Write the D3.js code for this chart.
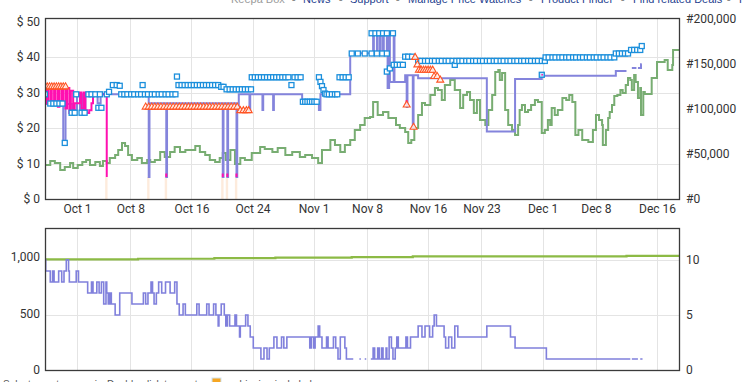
<!DOCTYPE html>
<html><head><meta charset="utf-8">
<script src="https://cdn.jsdelivr.net/npm/d3@7"></script>
<style>
html,body{margin:0;padding:0;background:#fff;}
svg{display:block;font-family:Roboto,"Noto Sans",sans-serif;}
</style></head><body>
<svg id="c" width="742" height="382"></svg>
<script>
// ---------- data ----------
const baseDate = Date.UTC(2023, 9, 1);          // day 0 = Oct 1
const viewDays = [-4.19, 79.01];                 // visible range (days from Oct 1)
const xTickDates = ["2023-10-01","2023-10-08","2023-10-16","2023-10-24","2023-11-01","2023-11-08","2023-11-16","2023-11-23","2023-12-01","2023-12-08","2023-12-16"];
const xTickLabels = ["Oct 1","Oct 8","Oct 16","Oct 24","Nov 1","Nov 8","Nov 16","Nov 23","Dec 1","Dec 8","Dec 16"];
const priceTicks = [0,10,20,30,40,50];
const rankTicks = [0,50000,100000,150000,200000];
const countTicksLeft = [0,500,1000];
const countTicksRight = [0,5,10];

// Sales rank [day, rank]
const salesRank = [[-4.2,37800],[-3.5,42200],[-2.9,40000],[-2.2,32200],[-1.6,35600],[-0.9,40000],[-0.5,34400],[0.1,37800],[0.7,41100],[1.2,43300],[1.7,37800],[2.4,41100],[3.0,36700],[3.4,42200],[3.9,40000],[4.3,45500],[5.0,48900],[5.4,54400],[5.9,62200],[6.3,58900],[6.7,48900],[7.2,43300],[7.9,45500],[8.5,40000],[9.2,43300],[9.6,41100],[10.2,43300],[10.9,52200],[11.5,46700],[12.2,52200],[12.8,57800],[13.5,52200],[14.2,54400],[14.8,54400],[15.5,58900],[16.1,52200],[16.8,48900],[17.4,43300],[18.1,41100],[18.7,45500],[19.1,51100],[19.5,43300],[20.1,54400],[20.7,38900],[21.4,45500],[22.0,43300],[22.9,51100],[24.0,57800],[24.6,55600],[25.6,52200],[26.3,56700],[27.3,48900],[28.2,52200],[29.2,46700],[29.9,48900],[30.8,45500],[31.6,40000],[32.1,54400],[33.2,65500],[33.8,60000],[34.5,52200],[35.1,60000],[35.8,65500],[36.4,76700],[37.1,82200],[37.7,90000],[38.4,91100],[38.8,107800],[39.4,93300],[40.1,96700],[40.8,90000],[41.3,90000],[41.8,82200],[42.3,78900],[43.0,74400],[43.4,62200],[43.8,65500],[44.2,78900],[44.7,93300],[45.2,106700],[45.6,104400],[46.3,115500],[46.9,123300],[47.3,121100],[47.8,110000],[48.2,126700],[48.9,132200],[49.5,121100],[50.2,101100],[50.6,115500],[51.1,118900],[51.5,110000],[52.0,95500],[52.4,110000],[52.8,87800],[53.5,82200],[53.9,98900],[54.4,115500],[54.8,141100],[55.2,143300],[55.4,132200],[55.7,140000],[56.1,98900],[56.5,82200],[57.0,76700],[57.4,71100],[57.8,82200],[58.0,98900],[58.3,104400],[58.7,96700],[59.1,98900],[59.5,104400],[60.0,110000],[60.4,107800],[60.9,73300],[61.3,76700],[61.7,87800],[62.0,82200],[62.2,101100],[62.6,93300],[63.0,98900],[63.6,112200],[64.1,110000],[64.5,115500],[64.9,107800],[65.3,71100],[65.7,76700],[66.2,65500],[67.0,63300],[67.4,63300],[67.6,76700],[68.0,93300],[68.4,87800],[68.8,82200],[68.9,60000],[69.3,76700],[69.6,90000],[69.8,96700],[70.1,104400],[70.4,114400],[70.8,115500],[71.2,121100],[71.5,117800],[71.9,126700],[72.2,134400],[72.5,132200],[72.7,121100],[73.0,137800],[73.2,130000],[73.5,112200],[73.8,123300],[73.9,93300],[74.2,118900],[74.4,116700],[75.3,134400],[76.0,152200],[77.0,154400],[77.4,143300],[78.0,148900],[78.1,165500],[79.0,165500]];

// New price (purple step line) [day, $]; null = gap
const newPrice = [[-4.2,26.8],[-1.8,15.8],[-1.5,26.8],[-0.6,25.1],[0.0,29.5],[0.4,24.5],[0.6,29.5],[0.8,24.5],[1.1,29.5],[2.7,27.0],[3.1,29.5],[9.4,6.2],[9.5,27.0],[11.7,6.2],[11.8,27.0],[19.1,6.2],[19.2,27.0],[19.7,6.2],[19.8,27.0],[20.9,6.2],[21.0,25.1],[21.2,29.5],[22.6,25.1],[22.7,29.5],[24.3,25.1],[24.4,29.5],[25.7,25.1],[25.8,29.5],[29.5,27.3],[31.7,25.1],[31.9,29.5],[35.8,41.1],[38.8,46.8],[38.9,41.1],[39.3,46.8],[39.4,41.1],[39.7,46.8],[39.8,41.1],[40.1,46.8],[40.2,41.1],[40.6,46.8],[40.7,31.3],[40.9,46.8],[41.0,33.0],[41.5,46.8],[41.6,33.0],[43.0,34.9],[43.2,25.9],[43.3,34.9],[44.0,20.0],[44.1,34.9],[44.7,34.0],[53.7,19.0],[57.4,33.8],[60.9,34.7],[70.6,36.1],[72.0,36.1],[72.0,null],[72.7,36.9],[73.3,36.9],[73.3,null],[73.5,36.9],[73.9,38.0],[74.0,38.0],[74.0,null]];

// Buy Box (magenta step line) [day, $]; null = gap
const buyBox = [[-4.2,31.3],[-4.0,27.0],[-3.8,31.3],[-3.5,26.5],[-3.3,31.3],[-3.0,27.0],[-2.8,31.3],[-2.5,26.0],[-2.3,31.3],[-2.0,27.0],[-1.8,31.3],[-1.5,25.5],[-1.3,31.3],[-1.0,24.2],[-0.8,30.5],[-0.5,24.2],[-0.3,27.0],[0.4,30.0],[0.6,25.5],[0.9,30.0],[1.1,25.0],[1.3,24.2],[1.6,25.0],[1.9,27.0],[2.1,29.5],[3.9,6.2],[4.0,null],[11.7,7.2],[11.7,6.2],[11.8,null],[19.1,7.2],[19.1,6.2],[19.2,null],[19.7,7.2],[19.7,6.2],[19.8,null],[20.9,7.2],[20.9,6.2],[21.0,null],[29.5,27.2],[31.7,27.2],[31.8,null],[43.2,27.9],[43.2,26.5],[43.3,null],[60.8,35.0],[61.0,35.0],[61.1,null]];

// Amazon (faint area) days where price hit $6.2
const amazonDays = [3.85,9.35,11.65,19.05,19.65,20.85];
const amazonValue = 6.2;

// New, 3rd party FBM (blue squares) [day, $]
const newFbm = [[-4.2,29.5],[-3.5,26.9],[-3.1,26.9],[-2.7,26.9],[-2.3,26.9],[-1.9,26.9],[-1.6,15.8],[-0.7,24.3],[-0.3,24.3],[-0.1,29.5],[0.6,24.3],[1.0,24.3],[1.5,29.5],[1.9,29.5],[2.4,29.5],[2.8,25.7],[3.2,25.7],[3.0,29.5],[3.9,29.5],[4.2,30.2],[4.7,32.1],[5.2,32.1],[5.6,31.9],
[5.8,29.5],[6.2,29.5],[6.6,29.5],[7.1,29.5],[7.5,29.5],[8.0,29.5],[8.4,29.5],[8.6,32.1],[8.9,29.5],[9.3,29.5],[9.8,29.5],[10.2,29.5],[10.7,29.5],[11.1,29.5],[11.6,29.5],[12.0,29.5],[12.5,29.5],[12.9,29.5],[13.1,34.5],
[13.3,32.1],[13.7,32.1],[14.1,32.1],[14.5,32.1],[14.9,32.1],[15.3,32.1],[15.7,32.1],[16.1,32.1],[16.5,32.1],[16.9,32.1],[17.3,32.1],[17.7,32.1],[18.1,32.1],[18.5,32.1],[18.9,31.6],[19.2,31.6],
[19.6,30.9],[20.0,30.9],[20.4,30.9],[20.8,30.9],[21.2,30.9],[21.6,30.9],[22.0,30.9],[22.4,30.9],[22.8,30.9],
[22.9,34.3],[23.3,34.3],[23.7,34.3],[24.1,34.3],[24.5,34.3],[24.9,34.3],[25.3,34.3],[25.7,34.3],[26.1,34.3],[26.5,34.3],[26.9,34.3],[27.3,34.3],[27.7,34.3],[28.1,32.1],[28.5,34.3],[28.9,34.3],[29.3,34.3],
[29.6,27.4],[29.9,27.4],[30.2,27.4],[30.5,27.4],[30.8,27.4],[31.1,27.4],[31.4,27.4],
[31.7,34.3],[31.9,33.0],[32.1,31.8],[32.3,30.7],[32.5,29.7],[32.7,29.5],[33.0,29.5],[33.4,29.5],[33.8,29.5],[34.1,29.5],
[34.4,34.3],[34.8,34.3],[35.2,34.3],[35.6,34.3],
[36.0,41.0],[36.8,41.0],[37.7,41.0],[38.6,41.0],[39.3,41.0],[40.0,41.0],[40.6,41.0],
[38.6,46.7],[39.1,46.7],[39.6,46.7],[40.1,46.7],[40.6,46.7],[41.4,46.7],
[40.6,35.9],[41.0,36.8],[41.5,37.8],[41.9,37.8],[42.3,37.8],[42.7,37.8],[43.0,40.1],[43.4,40.1],[43.9,40.1],
[44.7,38.9],[45.1,38.9],[45.6,38.9],[46.0,38.9],[46.5,38.9],[46.9,38.9],[47.4,38.9],[47.8,38.9],[48.3,38.9],[48.7,38.9],[49.2,38.9],[49.5,37.8],[49.7,38.9],[50.1,38.9],[50.5,38.9],[51.0,38.9],[51.4,38.9],[51.9,38.9],[52.3,38.9],[52.8,38.9],[53.2,38.9],[53.7,38.9],[54.1,38.9],[54.6,38.9],[55.0,38.9],[55.5,38.9],[55.9,38.9],[56.4,38.9],[56.8,38.9],[57.3,38.9],[57.7,38.9],[58.2,38.9],[58.6,38.9],[59.1,38.9],[59.5,38.9],[60.0,38.9],[60.4,38.9],[60.9,38.9],[61.3,38.9],
[61.4,39.9],[61.8,39.9],[62.3,39.9],[62.7,39.9],[63.2,39.9],[63.6,39.9],[64.1,39.9],[64.5,39.9],[65.0,39.9],[65.4,39.9],[65.9,39.9],[66.3,39.9],[66.8,39.9],[67.2,39.9],[67.7,39.9],[68.1,39.9],[68.6,39.9],[69.0,39.9],[69.5,39.9],[69.9,39.9],[70.4,39.9],
[70.6,41.0],[71.0,41.0],[71.4,41.0],[71.8,41.0],[72.2,41.0],[72.6,42.0],[73.0,42.0],[73.4,42.0],[73.8,42.0],[74.0,43.1]];
// Buy Box marker (square) [day, $]
const buyBoxMarker = [[60.9,35.0]];

// New, 3rd party FBA (orange triangles) [day, $]
const newFba = [[-4.2,31.6],[-3.9,31.6],[-3.6,31.6],[-3.3,31.6],[-3.0,31.6],[-2.7,31.6],[-2.4,31.6],[-2.1,31.6],[-1.8,31.6],[-1.5,31.6],
[9.0,25.9],[9.4,25.9],[9.8,25.9],[10.2,25.9],[10.6,25.9],[11.0,25.9],[11.4,25.9],[11.8,25.9],[12.2,25.9],[12.6,25.9],[13.0,25.9],[13.4,25.9],[13.8,25.9],[14.2,25.9],[14.6,25.9],[15.0,25.9],[15.4,25.9],[15.8,25.9],[16.2,25.9],[16.6,25.9],[17.0,25.9],[17.4,25.9],[17.8,25.9],[18.2,25.9],[18.6,25.9],[19.0,25.9],[19.4,25.9],[19.8,25.9],[20.2,25.9],[20.6,25.9],[21.0,25.9],
[21.4,24.9],[21.8,24.9],[22.2,24.9],[22.5,24.9],
[43.2,26.5],[44.1,20.2],[44.3,39.9],[44.6,37.8],[44.8,36.3],[45.1,36.3],[45.4,36.3],[45.7,36.3],[46.0,36.3],[46.3,36.3],[46.6,36.3],[46.8,34.5],[47.2,34.5],[47.6,33.5]];

// Lower chart: new offer count [day, count] (null = gap) and review count [day, count]
const offerCount = [[-4.2,10],[-4.1,9],[-3.5,8],[-3.2,9],[-3.0,8],[-2.4,9],[-2.0,8],[-1.7,9],[-1.4,10],[-1.1,9],[-1.0,8],[-0.1,9],[0.2,8],[1.4,7],[1.9,8],[2.1,7],[2.6,8],[2.9,7],[3.2,8],[3.5,6],[3.8,8],[3.9,7],[4.1,6],[4.3,7],[4.5,6],[5.0,5],[5.6,7],[7.2,6],[8.7,7],[9.0,6],[9.3,7],[9.7,8],[9.9,7],[10.1,6],[10.4,7],[10.7,8],[11.1,7],[11.6,8],[12.2,7],[12.8,8],[13.1,6],[13.4,5],[13.9,6],[14.2,5],[15.7,6],[16.0,5],[17.0,6],[17.3,5],[17.9,6],[18.2,5],[18.5,4],[18.6,5],[18.9,6],[19.3,5],[19.5,4],[19.7,5],[20.0,4],[20.7,5],[20.9,4],[21.3,3],[21.4,4],[22.1,5],[22.4,4],[22.7,3],[23.1,2],[24.1,1],[24.5,2],[24.9,1],[25.2,2],[25.8,3],[26.2,2],[26.8,3],[27.1,2],[27.5,3],[30.5,2],[30.7,3],[31.0,2],[31.2,3],[31.6,4],[31.8,3],[32.1,2],[32.7,3],[32.9,2],[33.6,3],[33.9,2],[34.2,1],[34.5,3],[35.1,2],[35.3,1],[36.2,1],[36.2,null],[37.0,1],[37.2,1],[37.2,null],[37.7,1],[37.9,1],[37.9,null],[38.5,1],[38.8,2],[39.0,1],[39.4,2],[39.6,1],[39.9,2],[40.1,1],[40.5,2],[40.6,1],[40.9,3],[41.2,2],[41.4,1],[41.7,2],[41.9,3],[42.1,2],[43.1,3],[43.3,2],[43.7,3],[44.7,4],[45.2,3],[45.6,4],[46.2,3],[46.6,4],[46.8,5],[47.1,4],[48.1,3],[48.3,2],[48.7,3],[49.1,2],[49.5,4],[49.9,3],[53.7,4],[56.8,3],[57.4,2],[61.5,1],[72.5,1],[72.5,null],[72.7,1],[73.5,1],[73.5,null],[73.8,1],[74.1,1],[74.1,null]];
const reviewCount = [[-4.2,980],[8,985],[18,990],[26,995],[36,1000],[44,1005],[72,1010],[79.01,1010]];

// ---------- drawing ----------
const dayMs = 86400000;
const toDate = d => new Date(baseDate + d * dayMs);
const svg = d3.select("#c");
const X0 = 45, X1 = 680, T0 = 18, T1 = 199, B0 = 228, B1 = 370;

const x = d3.scaleUtc().domain(viewDays.map(toDate)).range([X0, X1]);
const yPrice = d3.scaleLinear().domain([0, 51]).range([T1, T0]);
const yRank = d3.scaleLinear().domain([0, 201100]).range([T1, T0]);
const yCntL = d3.scaleLinear().domain([0, 1257]).range([B1, B0]);
const yCntR = d3.scaleLinear().domain([0, 12.9]).range([B1, B0]);
const tickDates = xTickDates.map(s => new Date(s + "T00:00:00Z"));

const defs = svg.append("defs");
defs.append("clipPath").attr("id","clipT").append("rect").attr("x",X0).attr("y",T0).attr("width",X1-X0).attr("height",T1-T0);
defs.append("clipPath").attr("id","clipB").append("rect").attr("x",X0).attr("y",B0).attr("width",X1-X0).attr("height",B1-B0);

// header (partially cut off at the top edge, as in the reference)
const header = [
  {t:"Keepa Box", x:231, c:"#9a9a9a"},{t:"▪", x:292, c:"#8a8a8a"},
  {t:"News", x:303, c:"#1f3f8f"},{t:"▪", x:339, c:"#8a8a8a"},
  {t:"Support", x:350, c:"#1f3f8f"},{t:"▪", x:396, c:"#8a8a8a"},
  {t:"Manage Price Watches", x:408, c:"#1f3f8f"},{t:"▪", x:529, c:"#8a8a8a"},
  {t:"Product Finder", x:541, c:"#1f3f8f"},{t:"▪", x:621, c:"#8a8a8a"},
  {t:"Find related Deals", x:633, c:"#1f3f8f"},{t:"▪", x:727, c:"#8a8a8a"},
  {t:"F", x:739, c:"#1f3f8f"}];
svg.append("g").selectAll("text").data(header).join("text")
  .attr("x", d=>d.x).attr("y", 3).attr("fill", d=>d.c)
  .style("font-family","'Liberation Sans',Arial,sans-serif").style("font-size","11px").text(d=>d.t);

// footer (partially cut off at the bottom edge)
const foot = svg.append("g").style("font-family","'Liberation Sans',Arial,sans-serif").style("font-size","10px").attr("fill","#555");
foot.append("text").attr("x",3).attr("y",388).text("Select area to zoom in.");
foot.append("text").attr("x",107).attr("y",388).text("Double-click to reset.");
foot.append("rect").attr("x",212).attr("y",378).attr("width",9).attr("height",9).attr("fill","#f6a623").attr("stroke","#cfe3f2");
foot.append("text").attr("x",226).attr("y",388).text("= shipping included");

// ===== TOP CHART =====
const gT = svg.append("g");
gT.append("g").selectAll("line").data(priceTicks.filter(v=>v>0 && v<50)).join("line")
  .attr("x1",X0).attr("x2",X1).attr("y1",d=>Math.round(yPrice(d))+0.5).attr("y2",d=>Math.round(yPrice(d))+0.5)
  .attr("stroke","#e4e4e4").attr("stroke-width",1);
gT.append("g").selectAll("line").data(tickDates).join("line")
  .attr("x1",d=>Math.round(x(d))+0.5).attr("x2",d=>Math.round(x(d))+0.5).attr("y1",T0).attr("y2",T1)
  .attr("stroke","#e4e4e4").attr("stroke-width",1);

const plotT = gT.append("g").attr("clip-path","url(#clipT)");
plotT.append("g").selectAll("rect").data(amazonDays).join("rect")
  .attr("x", d=>x(toDate(d))-1.2).attr("width",2.4)
  .attr("y", yPrice(amazonValue)).attr("height", yPrice(0)-yPrice(amazonValue))
  .attr("fill","#fde8d6").attr("opacity",0.85);

const mkLine = (ys) => d3.line().defined(d=>d[1]!=null).x(d=>x(toDate(d[0]))).y(d=>ys(d[1])).curve(d3.curveStepAfter);

plotT.append("path").datum(salesRank).attr("d", mkLine(yRank))
  .attr("fill","none").attr("stroke","#78ad72").attr("stroke-width",2);
plotT.append("path").datum(newPrice).attr("d", mkLine(yPrice))
  .attr("fill","none").attr("stroke","#8484dc").attr("stroke-width",2);
plotT.append("path").datum(buyBox).attr("d", mkLine(yPrice))
  .attr("fill","none").attr("stroke","#ff10b0").attr("stroke-width",2);

const sq = 5;
plotT.append("g").selectAll("rect").data(newFbm).join("rect")
  .attr("x", d=>x(toDate(d[0]))-sq/2).attr("y", d=>yPrice(d[1])-sq/2)
  .attr("width",sq).attr("height",sq)
  .attr("fill","#ffffff").attr("stroke","#1b8fdc").attr("stroke-width",1.3);
plotT.append("g").selectAll("rect").data(buyBoxMarker).join("rect")
  .attr("x", d=>x(toDate(d[0]))-sq/2).attr("y", d=>yPrice(d[1])-sq/2)
  .attr("width",sq).attr("height",sq)
  .attr("fill","#bfe3f8").attr("stroke","#1b8fdc").attr("stroke-width",1.3);
plotT.append("path").datum(buyBoxMarker.map(d=>[d[0]-0.05,d[1]]).concat(buyBoxMarker.map(d=>[d[0]+0.15,d[1]])))
  .attr("d", mkLine(yPrice)).attr("fill","none").attr("stroke","#ff10b0").attr("stroke-width",1.5);

const tri = d3.symbol().type(d3.symbolTriangle).size(21);
plotT.append("g").selectAll("path").data(newFba).join("path")
  .attr("transform", d=>`translate(${x(toDate(d[0]))},${yPrice(d[1])})`)
  .attr("d", tri).attr("fill","#fff4f0").attr("fill-opacity",0.85)
  .attr("stroke","#ff5424").attr("stroke-width",1.1);

gT.append("rect").attr("x",X0+0.5).attr("y",T0+0.5).attr("width",X1-X0-1).attr("height",T1-T0)
  .attr("fill","none").attr("stroke","#3a3a3a").attr("stroke-width",1.3);

const styleAxis = g => { g.select(".domain").remove(); g.selectAll("text").attr("fill","#333").style("font-size","12px").style("font-family","Roboto,sans-serif"); };
gT.append("g").attr("transform",`translate(${X0},0)`)
  .call(d3.axisLeft(yPrice).tickValues(priceTicks).tickFormat(d=>"$ "+d).tickSize(0).tickPadding(5)).call(styleAxis);
gT.append("g").attr("transform",`translate(${X1},0)`)
  .call(d3.axisRight(yRank).tickValues(rankTicks).tickFormat(d=>"#"+d3.format(",")(d)).tickSize(0).tickPadding(6)).call(styleAxis);
gT.append("g").attr("transform",`translate(0,${T1})`)
  .call(d3.axisBottom(x).tickValues(tickDates).tickFormat((d,i)=>xTickLabels[i]).tickSize(0).tickPadding(5)).call(styleAxis);

// ===== BOTTOM CHART =====
const gB = svg.append("g");
gB.append("g").selectAll("line").data(countTicksRight.filter(v=>v>0)).join("line")
  .attr("x1",X0).attr("x2",X1).attr("y1",d=>Math.round(yCntR(d))+0.5).attr("y2",d=>Math.round(yCntR(d))+0.5)
  .attr("stroke","#e4e4e4");
gB.append("g").selectAll("line").data(tickDates).join("line")
  .attr("x1",d=>Math.round(x(d))+0.5).attr("x2",d=>Math.round(x(d))+0.5).attr("y1",B0).attr("y2",B1)
  .attr("stroke","#e4e4e4");
const plotB = gB.append("g").attr("clip-path","url(#clipB)");
plotB.append("path").datum(reviewCount).attr("d", mkLine(yCntL))
  .attr("fill","none").attr("stroke","#8cba45").attr("stroke-width",2.2);
plotB.append("path").datum(offerCount).attr("d", mkLine(yCntR))
  .attr("fill","none").attr("stroke","#8080dc").attr("stroke-width",1.6);
gB.append("rect").attr("x",X0+0.5).attr("y",B0+0.5).attr("width",X1-X0-1).attr("height",B1-B0)
  .attr("fill","none").attr("stroke","#3a3a3a").attr("stroke-width",1.3);
gB.append("g").attr("transform",`translate(${X0},0)`)
  .call(d3.axisLeft(yCntL).tickValues(countTicksLeft).tickFormat(d3.format(",")).tickSize(0).tickPadding(5)).call(styleAxis);
gB.append("g").attr("transform",`translate(${X1},0)`)
  .call(d3.axisRight(yCntR).tickValues(countTicksRight).tickSize(0).tickPadding(6)).call(styleAxis);
</script>
</body></html>
